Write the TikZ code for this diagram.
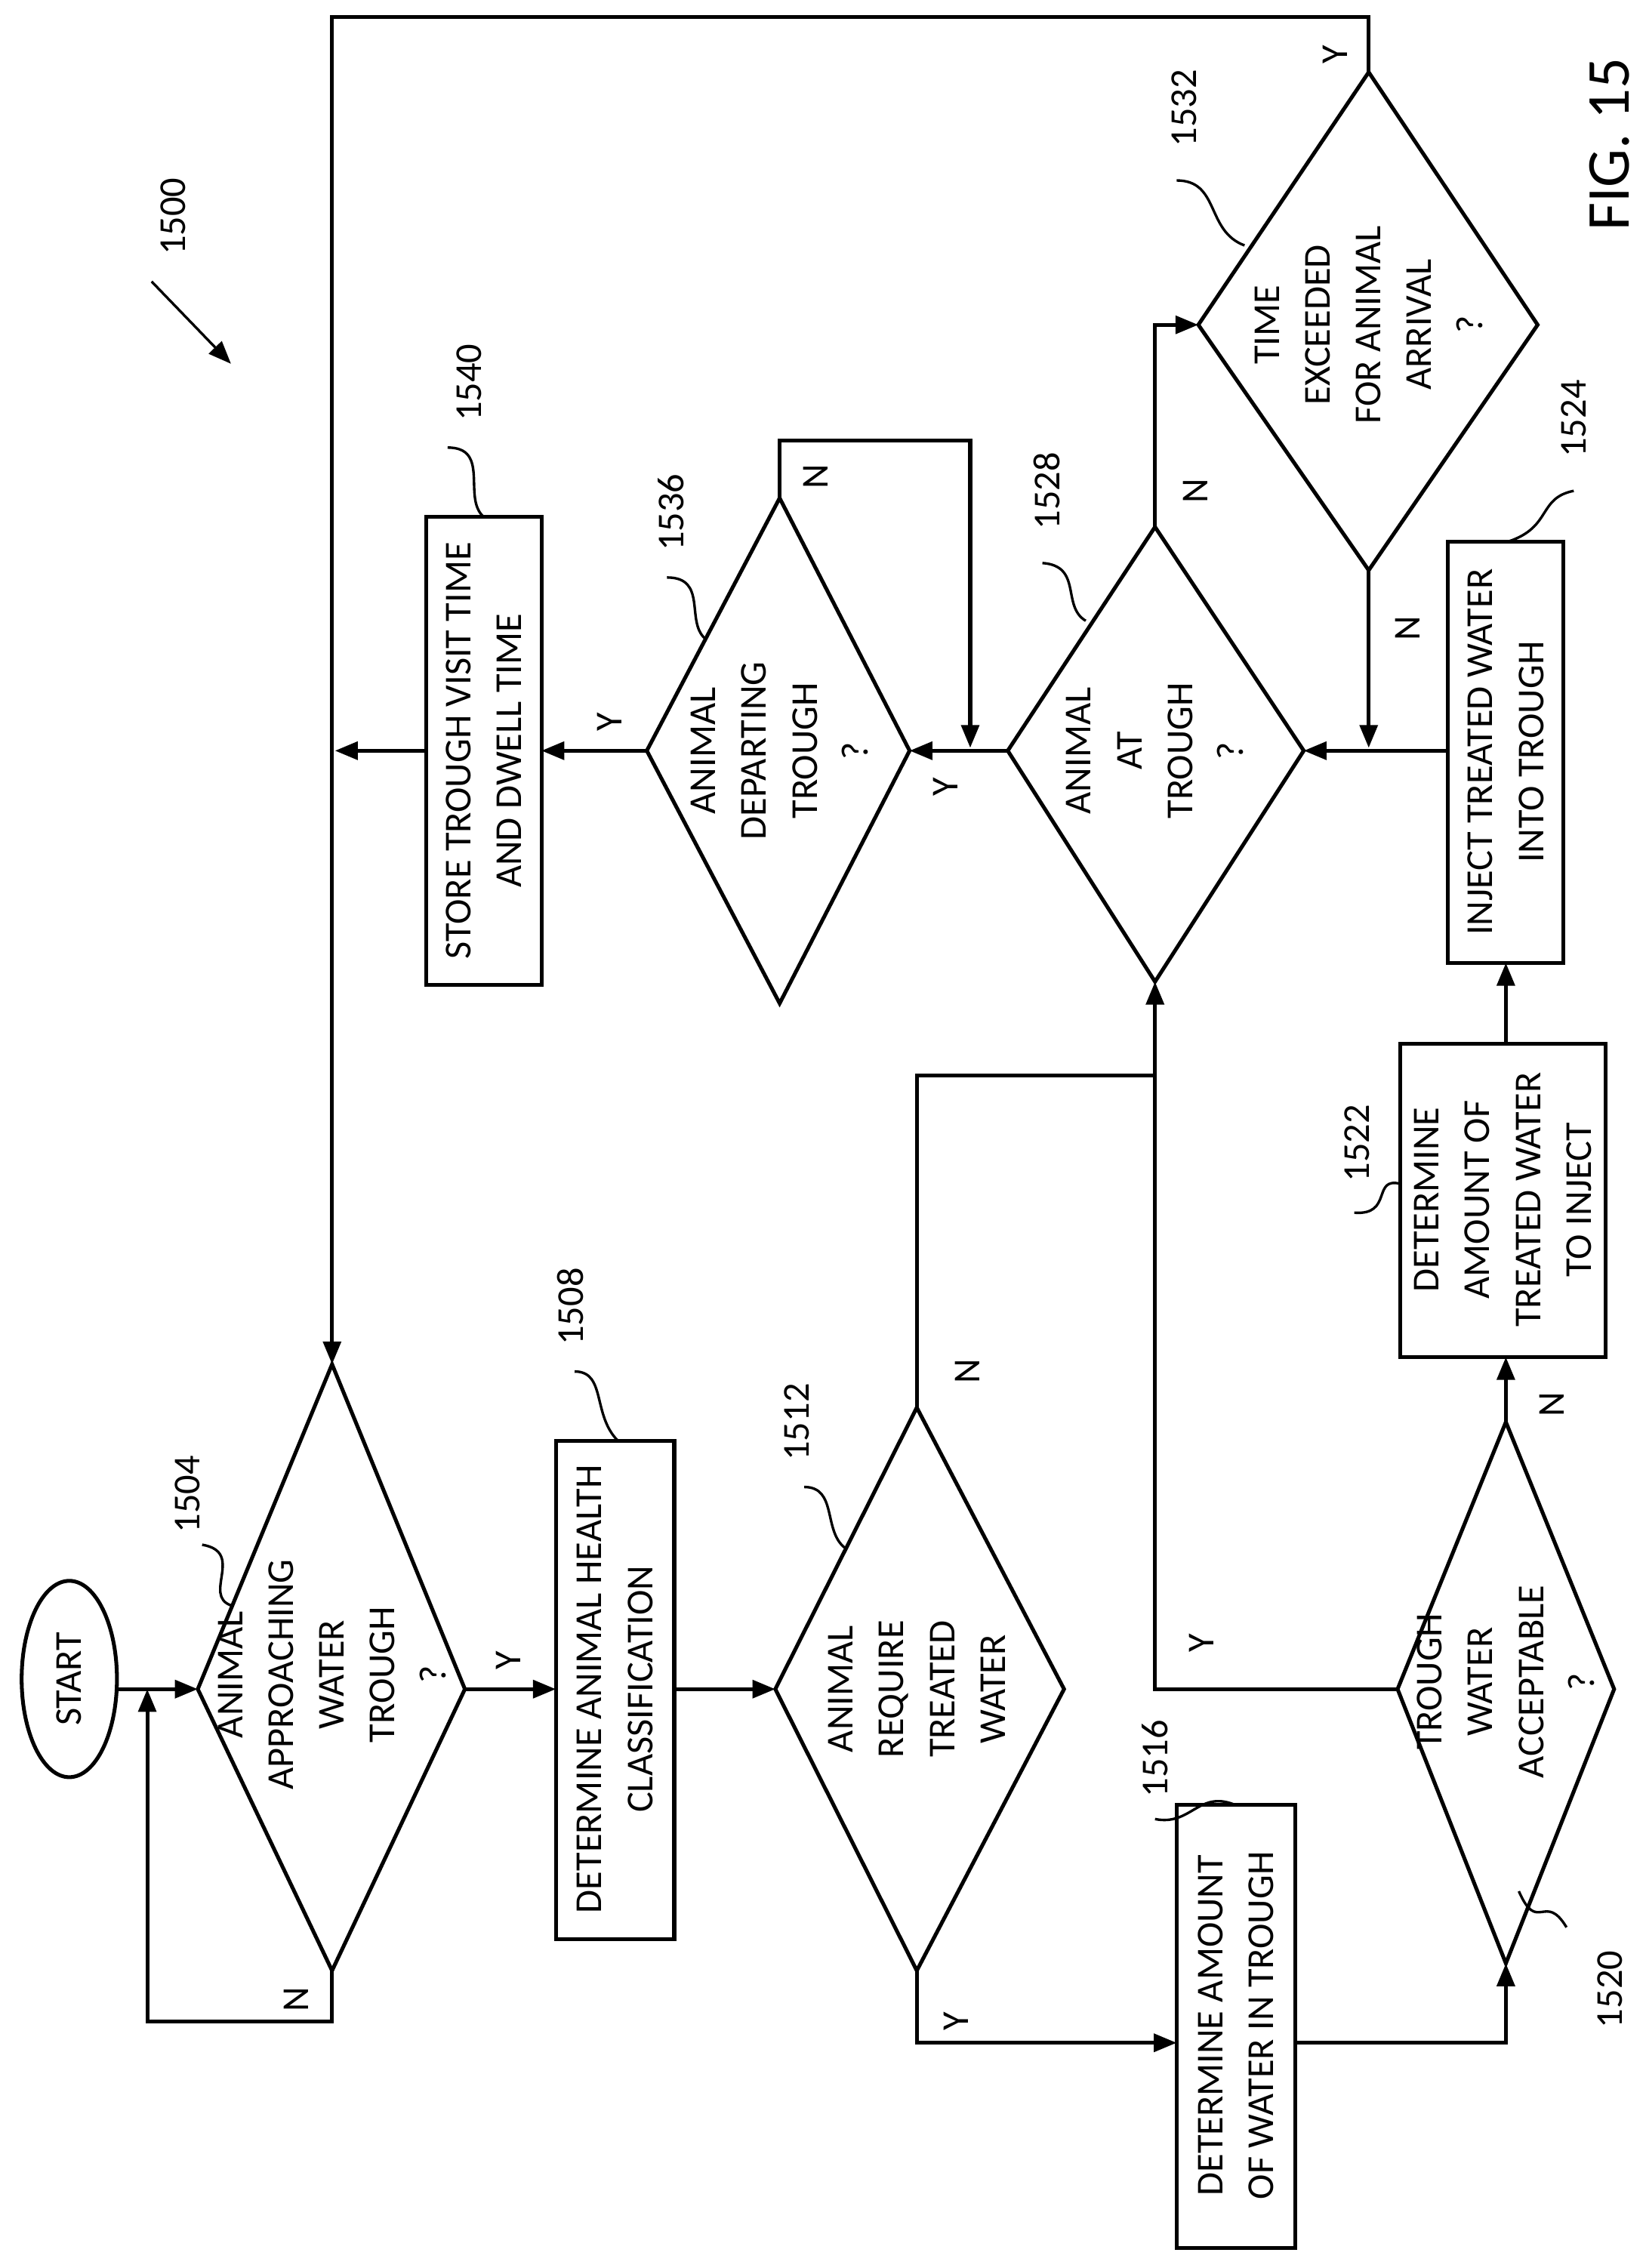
\documentclass[tikz,border=0pt]{standalone}
\usepackage{fontspec}
\setmainfont{Carlito}
\usetikzlibrary{arrows.meta,shapes.geometric}
\begin{document}
\begin{tikzpicture}[x=0.02cm,y=-0.02cm,line width=1.5pt,
 ar/.style={-{Triangle[length=9pt,width=7pt]}},
 txt/.style={rotate=90,align=center,font=\fontsize{15}{20}\selectfont},
 lab/.style={font=\fontsize{15}{18}\selectfont},
 ref/.style={rotate=90,font=\fontsize{15}{18}\selectfont},
 sq/.style={line width=1pt}]
\useasboundingbox (0,0) rectangle (1140,1571);
% START
\node[draw,ellipse,minimum width=66*0.02cm,minimum height=136*0.02cm] (st) at (48,1163) {};
\node[txt] at (48,1163) {START};
% diamonds as coordinates
\foreach \n/\cx/\cy/\t/\b/\l/\r in {a/230/1170/945/1365/137/322, b/635/1170/975/1365/537/737, c/1043/1170/985/1360/968/1118, d/800/520/365/680/698/903, e/948/225/50/395/830/1065, f/540/520/345/695/448/630}{
 \coordinate (\n t) at (\cx,\t); \coordinate (\n b) at (\cx,\b);
 \coordinate (\n l) at (\l,\cy); \coordinate (\n r) at (\r,\cy);
 \draw (\n t)--(\n r)--(\n b)--(\n l)--cycle;}
\node[txt] (ta) at (230,1160) {ANIMAL\\APPROACHING\\WATER\\TROUGH\\?};
\node[txt] (tb) at (635,1170) {ANIMAL\\REQUIRE\\TREATED\\WATER};
\node[txt] (tc) at (1043,1165) {TROUGH\\WATER\\ACCEPTABLE\\?};
\node[txt] (td) at (800,520) {ANIMAL\\AT\\TROUGH\\?};
\node[txt] (te) at (948,225) {TIME\\EXCEEDED\\FOR ANIMAL\\ARRIVAL\\?};
\node[txt] (tf) at (540,520) {ANIMAL\\DEPARTING\\TROUGH\\?};
% boxes
\draw (385,998) rectangle (467,1343); \node[txt] (b1) at (426,1170) {DETERMINE ANIMAL HEALTH\\CLASSIFICATION};
\draw (815,1250) rectangle (897,1557); \node[txt] (b2) at (856,1403) {DETERMINE AMOUNT\\OF WATER IN TROUGH};
\draw (970,723) rectangle (1112,940); \node[txt] (b3) at (1041,831) {DETERMINE\\AMOUNT OF\\TREATED WATER\\TO INJECT};
\draw (1003,375) rectangle (1083,667); \node[txt] (b4) at (1043,521) {INJECT TREATED WATER\\INTO TROUGH};
\draw (295,358) rectangle (375,682); \node[txt] (b5) at (335,520) {STORE TROUGH VISIT TIME\\AND DWELL TIME};
\coordinate (j1) at (230,1400); \coordinate (j2) at (102,1400); \coordinate (j3) at (102,1170);
% connectors
\draw[ar] (82,1170)--(al);
\draw[ar] (ab)--(j1)--(j2)--(j3);
\draw[ar] (ar)--(385,1170);
\draw[ar] (467,1170)--(bl);
\draw[ar] (bb)--(635,1415)--(815,1415);
\draw (bt)--(635,745)--(800,745);
\draw[ar] (897,1415)--(1043,1415)--(cb);
\draw[ar] (cl)--(800,1170)--(db);
\draw[ar] (ct)--(1043,940);
\draw[ar] (1043,723)--(1043,667);
\draw[ar] (1003,520)--(dr);
\draw[ar] (dt)--(800,225)--(el);
\draw[ar] (eb)--(948,518);
\draw[ar] (et)--(948,12)--(230,12)--(at);
\draw[ar] (dl)--(fr);
\draw[ar] (ft)--(540,305)--(672,305)--(672,518);
\draw[ar] (fl)--(375,520);
\draw[ar] (295,520)--(232,520);
% branch labels
\foreach \x/\y/\s in {205/1385/N,352/1150/Y,662/1400/Y,670/950/N,832/1138/Y,1075/973/N,828/340/N,975/435/N,925/38/Y,655/545/Y,565/330/N,422/500/Y}
 \node[lab,rotate=90] at (\x,\y) {\s};
% reference numbers
\node[ref] at (120,150) {1500}; \draw[ar,line width=1pt] (105,195)--(160,252);
\foreach \x/\y/\s/\ax/\ay/\bx/\by in {
 130/1035/1504/150/1080/160/1110,
 395/905/1508/420/950/428/998,
 552/985/1512/575/1030/585/1070,
 800/1218/1516/825/1260/850/1278,
 1115/1378/1520/1090/1330/1055/1300,
 940/792/1522/950/840/970/835,
 1090/290/1524/1065/350/1045/375,
 725/340/1528/730/390/752/430,
 820/75/1532/840/130/860/170,
 465/355/1536/470/400/488/440,
 325/265/1540/335/320/335/358}{
 \node[ref] at (\x,\y) {\s};}
\draw[sq] (140,1070) .. controls (170,1075) and (140,1105) .. (160,1112);
\draw[sq] (398,950) .. controls (420,950) and (410,980) .. (428,998);
\draw[sq] (557,1030) .. controls (580,1030) and (570,1060) .. (585,1072);
\draw[sq] (800,1260) .. controls (825,1265) and (830,1240) .. (855,1250);
\draw[sq] (1085,1335) .. controls (1070,1310) and (1065,1340) .. (1052,1310);
\draw[sq] (938,840) .. controls (965,842) and (950,815) .. (970,820);
\draw[sq] (1090,340) .. controls (1065,345) and (1075,365) .. (1045,375);
\draw[sq] (722,390) .. controls (750,392) and (735,420) .. (752,430);
\draw[sq] (815,125) .. controls (845,125) and (835,160) .. (862,170);
\draw[sq] (462,400) .. controls (490,400) and (475,430) .. (488,442);
\draw[sq] (310,310) .. controls (340,310) and (320,345) .. (335,358);
\node[rotate=90,font=\fontsize{24}{28}\selectfont] at (1115,100) {FIG. 15};
\end{tikzpicture}
\end{document}
